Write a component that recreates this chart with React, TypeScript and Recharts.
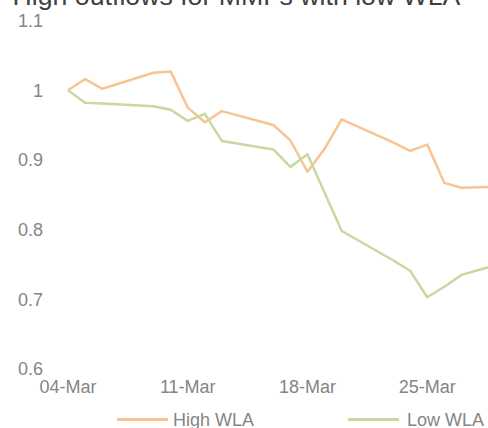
import React from 'react';
import { LineChart, Line, XAxis, YAxis } from 'recharts';

const dateLabels = ['04-Mar', '05-Mar', '06-Mar', '09-Mar', '10-Mar', '11-Mar', '12-Mar', '13-Mar', '16-Mar', '17-Mar', '18-Mar', '19-Mar', '20-Mar', '23-Mar', '24-Mar', '25-Mar', '26-Mar', '27-Mar', '30-Mar'];
const dayIndex = [0, 1, 2, 5, 6, 7, 8, 9, 12, 13, 14, 15, 16, 19, 20, 21, 22, 23, 26];
const highWLA = [1.0, 1.016, 1.002, 1.025, 1.027, 0.975, 0.954, 0.97, 0.95, 0.928, 0.883, 0.916, 0.958, 0.925, 0.913, 0.922, 0.867, 0.86, 0.862];
const lowWLA = [1.0, 0.982, 0.981, 0.977, 0.972, 0.956, 0.966, 0.927, 0.915, 0.89, 0.908, 0.853, 0.798, 0.756, 0.741, 0.703, 0.718, 0.735, 0.756];

const xTickValues = [0, 7, 14, 21];
const xTickLabels = ['04-Mar', '11-Mar', '18-Mar', '25-Mar'];
const yTicks = [0.6, 0.7, 0.8, 0.9, 1.0, 1.1];

const seriesNames = ['High WLA', 'Low WLA'];
const seriesColors = ['#F9C393', '#C6DAA0'];
const title = 'High outflows for MMFs with low WLA';

const data = dayIndex.map((d, i) => ({ day: d, date: dateLabels[i], high: highWLA[i], low: lowWLA[i] }));

const FONT = '"Liberation Sans", Arial, sans-serif';
const TICK_COLOR = '#858585';

export default function App() {
  return (
    <div style={{ position: 'absolute', left: 0, top: 0, width: 488, height: 428, overflow: 'hidden', background: '#fff', fontFamily: FONT }}>
      <div style={{ position: 'absolute', left: 0, top: -19, width: 473, textAlign: 'center', fontSize: 26.7, lineHeight: '30px', color: '#404040', whiteSpace: 'nowrap' }}>
        {title}
      </div>
      <div style={{ position: 'absolute', left: 0, top: 0 }}>
        <LineChart width={620} height={428} data={data} margin={{ top: 20.5, right: 73, left: 0, bottom: 29 }}>
          <XAxis
            dataKey="day"
            type="number"
            domain={[0, 28]}
            ticks={xTickValues}
            tickFormatter={(v: number) => xTickLabels[xTickValues.indexOf(v)] ?? ''}
            axisLine={false}
            tickLine={false}
            tickSize={0}
            tickMargin={11}
            height={30}
            interval={0}
            tick={{ fill: TICK_COLOR, fontSize: 18, fontFamily: FONT }}
          />
          <YAxis
            type="number"
            domain={[0.6, 1.1]}
            ticks={yTicks}
            tickFormatter={(v: number) => String(Math.round(v * 10) / 10)}
            axisLine={false}
            tickLine={false}
            tickSize={0}
            tickMargin={25}
            width={68}
            interval={0}
            tick={{ fill: TICK_COLOR, fontSize: 18, fontFamily: FONT }}
          />
          <Line type="linear" dataKey="high" name={seriesNames[0]} stroke={seriesColors[0]} strokeWidth={2.5} dot={false} isAnimationActive={false} strokeLinejoin="round" />
          <Line type="linear" dataKey="low" name={seriesNames[1]} stroke={seriesColors[1]} strokeWidth={2.5} dot={false} isAnimationActive={false} strokeLinejoin="round" />
        </LineChart>
      </div>
      {[{ lineX: 117, textX: 173 }, { lineX: 348, textX: 407 }].map((p, i) => (
        <React.Fragment key={i}>
          <div style={{ position: 'absolute', left: p.lineX, top: 418, width: 51, height: 3, background: seriesColors[i] }} />
          <div style={{ position: 'absolute', left: p.textX, top: 409.7, fontSize: 18, lineHeight: '20px', color: TICK_COLOR, whiteSpace: 'nowrap' }}>
            {seriesNames[i]}
          </div>
        </React.Fragment>
      ))}
    </div>
  );
}
